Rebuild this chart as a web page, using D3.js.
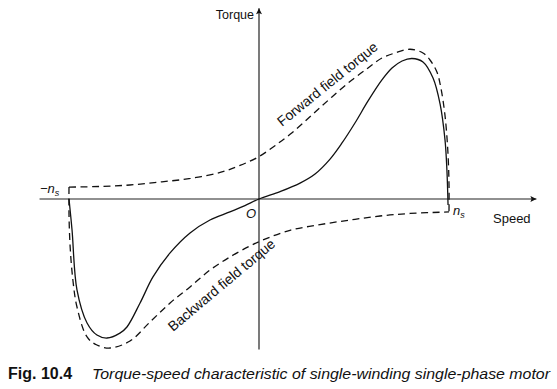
<!DOCTYPE html>
<html>
<head>
<meta charset="utf-8">
<script src="https://cdn.jsdelivr.net/npm/d3@7"></script>
<style>
  html, body { margin: 0; padding: 0; background: #fff; }
  svg { display: block; }
</style>
</head>
<body>
<div id="c1"></div>
<script>
// Speed in units of n_s, torque in % of peak forward field torque
var forwardSpeed  = [-1, -0.84, -0.68, -0.52, -0.36, -0.2, -0.1, 0, 0.084, 0.174, 0.279, 0.384, 0.489, 0.574, 0.647, 0.716, 0.795, 0.863, 0.9, 0.937, 0.958, 0.979, 0.994, 1, 1];
var forwardTorque = [8, 8.4, 9.4, 11.4, 13.8, 18, 22.5, 28.5, 35.8, 44.5, 56.4, 68.5, 79.9, 87.9, 94.6, 98, 100.5, 98, 93.3, 85, 74, 56, 32, 10, -8.7];

var backwardSpeed  = [-1, -1, -0.994, -0.979, -0.958, -0.905, -0.853, -0.784, -0.679, -0.574, -0.468, -0.363, -0.258, -0.153, -0.047, 0.021, 0.163, 0.321, 0.479, 0.637, 0.795, 1];
var backwardTorque = [8, -10, -32, -55, -72.5, -92.6, -98, -100, -95.3, -82.6, -69.8, -59, -47.7, -38.9, -31.5, -27.5, -21, -17.2, -14.1, -11.4, -9.7, -8.7];

var resultSpeed  = [-1, -0.984, -0.958, -0.905, -0.853, -0.8, -0.732, -0.695, -0.626, -0.558, -0.468, -0.363, -0.258, -0.153, -0.074, 0, 0.111, 0.216, 0.295, 0.374, 0.437, 0.505, 0.574, 0.647, 0.7, 0.753, 0.805, 0.863, 0.916, 0.953, 0.979, 0.989, 0.995];
var resultTorque = [0, -20.8, -61, -83.2, -91.3, -93.3, -90, -85.9, -69.8, -52.3, -36.2, -22.8, -14.1, -8.7, -4.4, 0, 5, 10.7, 16.8, 26.8, 37.6, 51, 65.8, 79.9, 87.9, 92.6, 94.3, 92, 81.2, 63.8, 39.6, 19.5, -4];

var axisSpeed = [-1.155, 1.46];
var axisTorque = [-101, 128];

var labels = {
    torque: "Torque",
    speed: "Speed",
    origin: "O",
    forward: "Forward field torque",
    backward: "Backward field torque",
    figNo: "Fig. 10.4",
    caption: "Torque-speed characteristic of single-winding single-phase motor"
};

var w = 557;
var h = 389;

function draw() {
    var svg = d3.select("#c1").append("svg")
        .attr("width", w)
        .attr("height", h);

    var x = d3.scaleLinear().domain([-1, 1]).range([69, 449]);
    var y = d3.scaleLinear().domain([-100, 100]).range([348, 50]);

    // Arrow heads
    var defs = svg.append("defs");
    defs.append("marker")
        .attr("id", "arrow")
        .attr("viewBox", "0 0 10 10")
        .attr("refX", 10).attr("refY", 5)
        .attr("markerWidth", 10).attr("markerHeight", 6)
        .attr("markerUnits", "userSpaceOnUse")
        .attr("orient", "auto")
        .append("path")
        .attr("d", "M0,0 L10,5 L0,10 L2,5 Z")
        .attr("fill", "#111");

    // Axes
    svg.append("line")
        .attr("x1", x(axisSpeed[0])).attr("x2", x(axisSpeed[1]))
        .attr("y1", y(0)).attr("y2", y(0))
        .attr("stroke", "#222").attr("stroke-width", 1.2)
        .attr("marker-end", "url(#arrow)");

    svg.append("line")
        .attr("x1", x(0)).attr("x2", x(0))
        .attr("y1", y(axisTorque[0])).attr("y2", y(axisTorque[1]))
        .attr("stroke", "#222").attr("stroke-width", 1.2)
        .attr("marker-end", "url(#arrow)");

    // Curves
    var line = d3.line()
        .x(function (d) { return x(d[0]); })
        .y(function (d) { return y(d[1]); })
        .curve(d3.curveCatmullRom.alpha(0.5));

    var series = [
        { s: forwardSpeed, t: forwardTorque, dash: "7,4.5" },
        { s: backwardSpeed, t: backwardTorque, dash: "7,4.5" },
        { s: resultSpeed, t: resultTorque, dash: null }
    ];

    svg.selectAll("path.curve")
        .data(series)
        .enter()
        .append("path")
        .attr("class", "curve")
        .attr("d", function (d) {
            return line(d.s.map(function (v, i) { return [v, d.t[i]]; }));
        })
        .attr("fill", "none")
        .attr("stroke", "#111")
        .attr("stroke-width", 1.3)
        .attr("stroke-dasharray", function (d) { return d.dash; });

    var font = "'Liberation Sans', Arial, sans-serif";

    // Axis labels
    svg.append("text")
        .attr("x", x(0) - 5).attr("y", 19)
        .attr("text-anchor", "end")
        .attr("font-family", font).attr("font-size", 12.5)
        .attr("fill", "#111")
        .text(labels.torque);

    svg.append("text")
        .attr("x", 493).attr("y", 223)
        .attr("font-family", font).attr("font-size", 13)
        .attr("fill", "#111")
        .text(labels.speed);

    svg.append("text")
        .attr("x", 251).attr("y", 218)
        .attr("text-anchor", "middle")
        .attr("font-family", font).attr("font-size", 13)
        .attr("font-style", "italic")
        .attr("fill", "#111")
        .text(labels.origin);

    // n_s markers
    var ns = svg.append("text")
        .attr("x", x(1) + 4).attr("y", 215)
        .attr("font-family", font).attr("font-size", 13)
        .attr("font-style", "italic")
        .attr("fill", "#111");
    ns.append("tspan").text("n");
    ns.append("tspan").attr("font-size", 9).attr("dy", 3).text("s");

    var nsl = svg.append("text")
        .attr("x", 40).attr("y", 193)
        .attr("font-family", font).attr("font-size", 13)
        .attr("font-style", "italic")
        .attr("fill", "#111");
    nsl.append("tspan").text("\u2212n");
    nsl.append("tspan").attr("font-size", 9).attr("dy", 3).text("s");

    // Curve labels
    svg.append("text")
        .attr("transform", "translate(282,127) rotate(-39)")
        .attr("font-family", font).attr("font-size", 14)
        .attr("fill", "#111")
        .text(labels.forward);

    svg.append("text")
        .attr("transform", "translate(173,332) rotate(-40)")
        .attr("font-family", font).attr("font-size", 14)
        .attr("fill", "#111")
        .text(labels.backward);

    // Caption
    svg.append("text")
        .attr("x", 8).attr("y", 379)
        .attr("font-family", font).attr("font-size", 16)
        .attr("font-weight", "bold")
        .attr("fill", "#111")
        .text(labels.figNo);

    svg.append("text")
        .attr("x", 92).attr("y", 379)
        .attr("font-family", font).attr("font-size", 15)
        .attr("font-style", "italic")
        .attr("textLength", 458)
        .attr("lengthAdjust", "spacingAndGlyphs")
        .attr("fill", "#111")
        .text(labels.caption);
}

draw();
</script>
</body>
</html>
